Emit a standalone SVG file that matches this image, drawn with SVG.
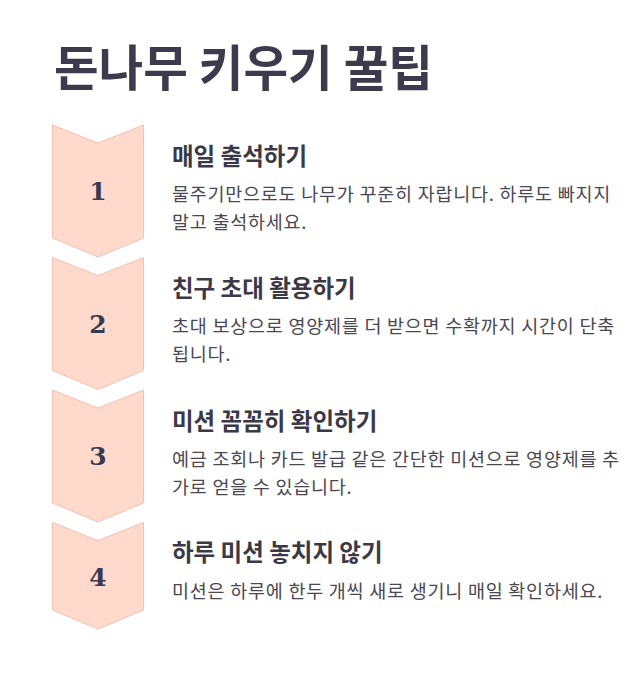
<svg xmlns="http://www.w3.org/2000/svg" width="642" height="674" viewBox="0 0 642 674">
<style>
.chev{fill:#fed9cc;stroke:#f3c2b2;stroke-width:1}
.num{font-family:"DejaVu Serif","Liberation Serif",serif;font-weight:700;font-size:25px;fill:#3b3950;text-anchor:middle}
.h{font-family:"Noto Sans CJK KR","Noto Sans",sans-serif;font-weight:700;font-size:48.5px;fill:#3d3a4e}
.t{font-family:"Noto Sans CJK KR","Noto Sans",sans-serif;font-weight:700;font-size:23.5px;fill:#3b3946}
.b{font-family:"Noto Sans CJK KR","Noto Sans",sans-serif;font-weight:400;font-size:18.5px;letter-spacing:0.75px;fill:#4a4852}
</style>
<rect width="642" height="674" fill="#ffffff"/>
<text class="h" x="54" y="86">돈나무 키우기 꿀팁</text>
<g id="step1">
<path class="chev" d="M52.5,125 L98,143 L143.5,125 L143.5,238 L98,257 L52.5,238 Z"/>
<text class="num" x="98" y="200">1</text>
<text class="t" x="172" y="165">매일 출석하기</text>
<text class="b" x="172" y="201">물주기만으로도 나무가 꾸준히 자랍니다. 하루도 빠지지</text>
<text class="b" x="172" y="229">말고 출석하세요.</text>
</g>
<g id="step2">
<path class="chev" d="M52.5,257.5 L98,275.5 L143.5,257.5 L143.5,370.5 L98,389.5 L52.5,370.5 Z"/>
<text class="num" x="98" y="333">2</text>
<text class="t" x="172" y="297">친구 초대 활용하기</text>
<text class="b" x="172" y="333">초대 보상으로 영양제를 더 받으면 수확까지 시간이 단축</text>
<text class="b" x="172" y="361">됩니다.</text>
</g>
<g id="step3">
<path class="chev" d="M52.5,390 L98,408 L143.5,390 L143.5,503 L98,522 L52.5,503 Z"/>
<text class="num" x="98" y="465">3</text>
<text class="t" x="172" y="430">미션 꼼꼼히 확인하기</text>
<text class="b" x="172" y="466">예금 조회나 카드 발급 같은 간단한 미션으로 영양제를 추</text>
<text class="b" x="172" y="494">가로 얻을 수 있습니다.</text>
</g>
<g id="step4">
<path class="chev" d="M52.5,522.5 L98,540.5 L143.5,522.5 L143.5,610 L98,629 L52.5,610 Z"/>
<text class="num" x="98" y="586">4</text>
<text class="t" x="172" y="561">하루 미션 놓치지 않기</text>
<text class="b" x="172" y="598">미션은 하루에 한두 개씩 새로 생기니 매일 확인하세요.</text>
</g>
<g id="connectors"></g>
</svg>
